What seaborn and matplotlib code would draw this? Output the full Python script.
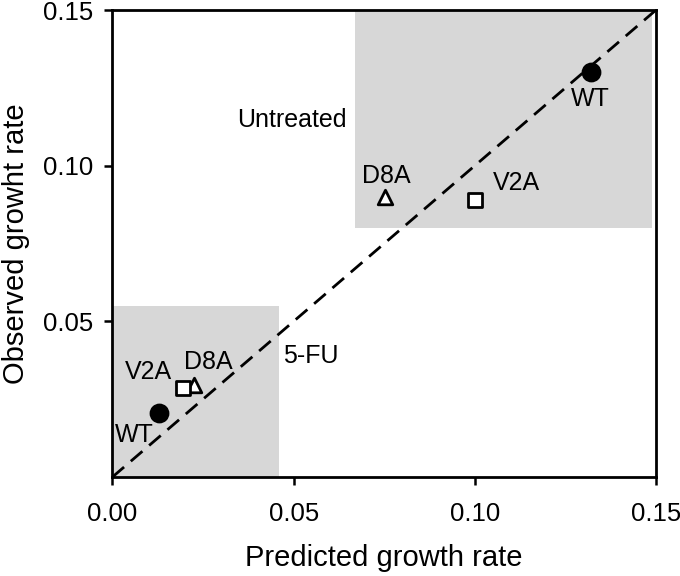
import pandas as pd
import seaborn as sns
import matplotlib.pyplot as plt
from matplotlib.patches import Rectangle

# values
mutants = ["WT", "D8A", "V2A", "WT", "D8A", "V2A"]
conditions = ["Untreated", "Untreated", "Untreated", "5-FU", "5-FU", "5-FU"]
predicted = [0.132, 0.0753, 0.100, 0.0128, 0.0226, 0.0196]
observed = [0.130, 0.0899, 0.0890, 0.0207, 0.0295, 0.0285]

# label positions (data coords) for each point
label_x = [0.132, 0.0755, 0.1115, 0.0059, 0.0264, 0.0098]
label_y = [0.1213, 0.0967, 0.0944, 0.0135, 0.0369, 0.0337]

# shaded boxes: x0, y0, x1, y1
box_untreated = [0.067, 0.080, 0.149, 0.150]
box_5fu = [0.0, 0.0, 0.046, 0.055]

sns.set_style("ticks")
plt.rcParams["font.family"] = ["Liberation Sans", "DejaVu Sans"]
plt.rcParams["text.color"] = "black"
plt.rcParams["axes.labelcolor"] = "black"
plt.rcParams["xtick.color"] = "black"
plt.rcParams["ytick.color"] = "black"

df = pd.DataFrame({"Predicted": predicted, "Observed": observed,
                   "Mutant": mutants, "Condition": conditions})

fig = plt.figure(figsize=(6.8, 5.76), dpi=100)
ax = fig.add_axes([0.1654, 0.1719, 0.7993, 0.8107])

for b in (box_untreated, box_5fu):
    ax.add_patch(Rectangle((b[0], b[1]), b[2] - b[0], b[3] - b[1],
                           facecolor="#d7d7d7", edgecolor="none", zorder=0))

ax.plot([0, 0.15], [0, 0.15], ls=(0, (5.5, 3.2)), color="black", lw=2.0, zorder=1)

marker_map = {"WT": "o", "D8A": "^", "V2A": "s"}
for m in ["WT", "D8A", "V2A"]:
    sub = df[df["Mutant"] == m]
    filled = m == "WT"
    sns.scatterplot(data=sub, x="Predicted", y="Observed", marker=marker_map[m],
                    s=150 if filled else 110,
                    color="black" if filled else "white",
                    edgecolor="black", linewidth=2.0, zorder=3, ax=ax, legend=False)

for i, m in enumerate(mutants):
    ax.text(label_x[i], label_y[i], m, ha="center", va="center", fontsize=18)

ax.text(0.0496, 0.1147, "Untreated", ha="center", va="center", fontsize=18)
ax.text(0.0546, 0.0389, "5-FU", ha="center", va="center", fontsize=18)

ax.set_xlim(0, 0.15)
ax.set_ylim(0, 0.15)
ax.set_xticks([0, 0.05, 0.10, 0.15])
ax.set_xticklabels(["0.00", "0.05", "0.10", "0.15"])
ax.set_yticks([0.05, 0.10, 0.15])
ax.set_yticklabels(["0.05", "0.10", "0.15"])
ax.tick_params(direction="out", length=6, width=1.8, labelsize=18.5, color="black")
ax.tick_params(axis="x", pad=12)
ax.tick_params(axis="y", pad=8)
for sp in ax.spines.values():
    sp.set_visible(True)
    sp.set_linewidth(2)
    sp.set_color("black")

ax.set_xlabel("Predicted growth rate", fontsize=21, labelpad=13)
ax.set_ylabel("Observed growht rate", fontsize=21, labelpad=9)

plt.savefig("out.png", dpi=100)
